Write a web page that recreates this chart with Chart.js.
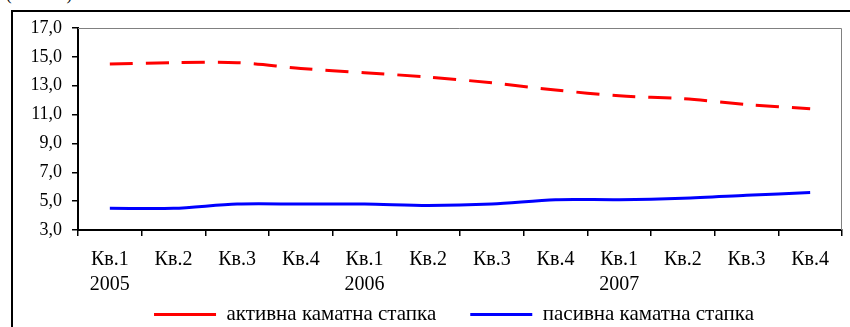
<!DOCTYPE html>
<html>
<head>
<meta charset="utf-8">
<script src="https://cdn.jsdelivr.net/npm/chart.js@4.4.1/dist/chart.umd.min.js"></script>
<style>
  html, body { margin: 0; padding: 0; background: #fff; overflow: hidden; width: 850px; height: 327px; }
  #wrap { position: absolute; left: 0; top: 0; width: 850px; height: 335px; }
  #frame { position: absolute; left: 11px; top: 10px; width: 1000px; height: 500px; border: 2px solid #000; box-sizing: border-box; pointer-events: none; }
  #unit { position: absolute; left: 6px; top: -15px; font: 17px "Liberation Serif", serif; letter-spacing: 4px; color: #000; }
</style>
</head>
<body>
<div id="unit">(во %)</div>
<div id="frame"></div>
<div id="wrap"><canvas id="c" width="850" height="335"></canvas></div>
<script>
const quarterLabels = ['Кв.1','Кв.2','Кв.3','Кв.4','Кв.1','Кв.2','Кв.3','Кв.4','Кв.1','Кв.2','Кв.3','Кв.4'];
const yearLabels = ['2005','','','','2006','','','','2007','','',''];
const activeRate = [14.5, 14.6, 14.6, 14.2, 13.9, 13.6, 13.2, 12.7, 12.3, 12.1, 11.7, 11.4];
const passiveRate = [4.5, 4.5, 4.8, 4.8, 4.8, 4.7, 4.8, 5.1, 5.1, 5.2, 5.4, 5.6];
const seriesNames = ['активна каматна стапка', 'пасивна каматна стапка'];
const yMin = 3, yMax = 17, yStep = 2;

const labels = quarterLabels.map((q, i) => yearLabels[i] ? [q, yearLabels[i]] : [q]);

const plotFrame = {
  id: 'plotFrame',
  afterDraw(chart) {
    const {ctx, chartArea: a} = chart;
    ctx.save();
    ctx.strokeStyle = '#808080';
    ctx.lineWidth = 1;
    ctx.beginPath();
    ctx.moveTo(a.left, a.top + 0.5);
    ctx.lineTo(a.right - 0.5, a.top + 0.5);
    ctx.lineTo(a.right - 0.5, a.bottom);
    ctx.stroke();
    ctx.restore();
  }
};

// let tick labels extend beyond the (fixed-size) axis boxes
const noLabelClip = s => { s._computeLabelArea = () => null; };

new Chart(document.getElementById('c'), {
  type: 'line',
  data: {
    labels: labels,
    datasets: [
      {
        label: seriesNames[0],
        data: activeRate,
        borderColor: '#ff0000',
        backgroundColor: '#ff0000',
        borderWidth: 3,
        borderDash: [23, 13],
        borderCapStyle: 'butt',
        pointRadius: 0,
        tension: 0.3,
        fill: false
      },
      {
        label: seriesNames[1],
        data: passiveRate,
        borderColor: '#0000ff',
        backgroundColor: '#0000ff',
        borderWidth: 3,
        pointRadius: 0,
        tension: 0.3,
        fill: false
      }
    ]
  },
  options: {
    responsive: false,
    devicePixelRatio: 1,
    animation: false,
    layout: { padding: { left: 66, right: 8, top: 28, bottom: 0 } },
    plugins: {
      tooltip: { enabled: false },
      legend: {
        position: 'bottom',
        labels: {
          usePointStyle: true,
          pointStyle: 'line',
          pointStyleWidth: 62,
          padding: 34,
          color: '#000',
          font: { family: 'Liberation Serif', size: 21 }
        }
      }
    },
    scales: {
      x: {
        offset: true,
        grid: { offset: true, drawOnChartArea: false, tickLength: 6, color: '#000', lineWidth: 1.5 },
        border: { color: '#000', width: 2 },
        ticks: {
          color: '#000',
          autoSkip: false,
          maxRotation: 0,
          padding: 11,
          font: { family: 'Liberation Serif', size: 20, lineHeight: 1.25 }
        },
        afterFit: s => { s.height = 40; noLabelClip(s); }
      },
      y: {
        min: yMin,
        max: yMax,
        grid: { drawOnChartArea: false, tickLength: 6, color: '#000', lineWidth: 1.5 },
        border: { color: '#000', width: 2 },
        ticks: {
          stepSize: yStep,
          color: '#000',
          padding: 10,
          font: { family: 'Liberation Serif', size: 18 },
          callback: v => Number(v).toFixed(1).replace('.', ',')
        },
        afterFit: s => { s.width = 12; noLabelClip(s); }
      }
    }
  },
  plugins: [plotFrame]
});
</script>
</body>
</html>
